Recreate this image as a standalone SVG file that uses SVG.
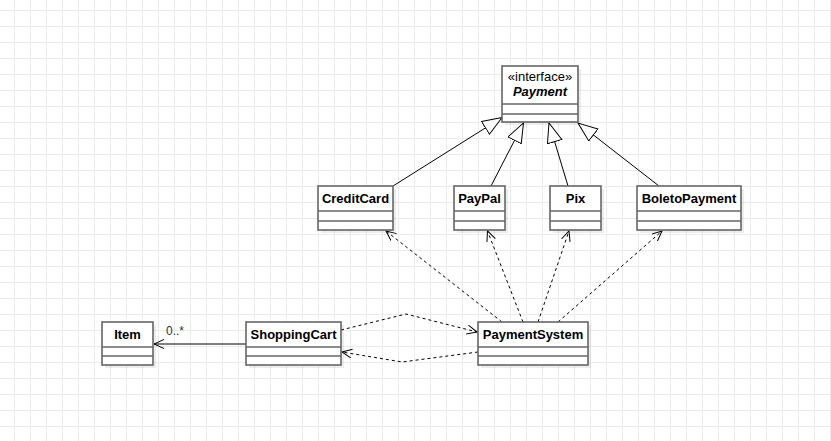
<svg xmlns="http://www.w3.org/2000/svg" width="831" height="441" viewBox="0 0 831 441">
<style>
  .box{fill:#fff;stroke:#666;stroke-width:1.6}
  .shadow{fill:#000;fill-opacity:0.07}
  .div{stroke:#666;stroke-width:1.6}
  .name{font-family:"Liberation Sans",Arial,sans-serif;font-size:13px;font-weight:bold;text-anchor:middle;fill:#000}
  .stereo{font-family:"Liberation Sans",Arial,sans-serif;font-size:13px;text-anchor:middle;fill:#000}
  .lbl{font-family:"Liberation Sans",Arial,sans-serif;font-size:12px;fill:#333}
  .solid{fill:none;stroke:#000;stroke-width:1}
  .dash{fill:none;stroke:#000;stroke-width:1;stroke-dasharray:3 3}
</style>
<defs>
  <pattern id="grid" width="16" height="16" patternUnits="userSpaceOnUse" x="14" y="10">
    <path d="M0.5,0 V16 M0,0.5 H16" fill="none" stroke="#ebebeb" stroke-width="1"/>
  </pattern>
  <marker id="open" markerUnits="userSpaceOnUse" markerWidth="14" markerHeight="12" refX="10" refY="5" orient="auto">
    <path d="M0,0.5 L10,5 L0,9.5" fill="none" stroke="#000" stroke-width="1" stroke-dasharray="none"/>
  </marker>
  <marker id="tri" markerUnits="userSpaceOnUse" markerWidth="24" markerHeight="20" refX="20" refY="8" orient="auto">
    <path d="M0.5,0.5 L20,8 L0.5,15.5 Z" fill="#fff" stroke="#000" stroke-width="1"/>
  </marker>
</defs>
<rect width="831" height="441" fill="#fff"/>
<rect width="831" height="441" fill="url(#grid)"/>

<g id="connectors">
  <path class="solid" d="M246,344 L154,344" marker-end="url(#open)"/>
  <path class="dash" d="M341,330 L406,314 L477,332" marker-end="url(#open)"/>
  <path class="dash" d="M478,352 L402,362 L342,352" marker-end="url(#open)"/>
  <path class="dash" d="M502,322 L386,231" marker-end="url(#open)"/>
  <path class="dash" d="M523,322 L487.5,231" marker-end="url(#open)"/>
  <path class="dash" d="M538,322 L569,231" marker-end="url(#open)"/>
  <path class="dash" d="M558,322 L662,231" marker-end="url(#open)"/>
  <path class="solid" d="M393,186 L502,117.5" marker-end="url(#tri)"/>
  <path class="solid" d="M491,186 L523.5,123" marker-end="url(#tri)"/>
  <path class="solid" d="M568,186 L549,123" marker-end="url(#tri)"/>
  <path class="solid" d="M659,186 L578,123" marker-end="url(#tri)"/>
  <text class="lbl" x="166" y="335">0..*</text>
</g>

<g id="Payment">
  <rect class="shadow" x="505" y="69" width="76" height="56"/>
  <rect class="box" x="502" y="66" width="76" height="56"/>
  <line class="div" x1="502" y1="104" x2="578" y2="104"/>
  <line class="div" x1="502" y1="114" x2="578" y2="114"/>
  <text class="stereo" x="540" y="81">«interface»</text>
  <text class="name" x="540" y="96" font-style="italic">Payment</text>
</g>

<g id="CreditCard">
  <rect class="shadow" x="321" y="189" width="75" height="44"/>
  <rect class="box" x="318" y="186" width="75" height="44"/>
  <line class="div" x1="318" y1="211" x2="393" y2="211"/>
  <line class="div" x1="318" y1="221" x2="393" y2="221"/>
  <text class="name" x="355.5" y="203">CreditCard</text>
</g>

<g id="PayPal">
  <rect class="shadow" x="457" y="189" width="51" height="44"/>
  <rect class="box" x="454" y="186" width="51" height="44"/>
  <line class="div" x1="454" y1="211" x2="505" y2="211"/>
  <line class="div" x1="454" y1="221" x2="505" y2="221"/>
  <text class="name" x="479.5" y="203">PayPal</text>
</g>

<g id="Pix">
  <rect class="shadow" x="553" y="189" width="51" height="44"/>
  <rect class="box" x="550" y="186" width="51" height="44"/>
  <line class="div" x1="550" y1="211" x2="601" y2="211"/>
  <line class="div" x1="550" y1="221" x2="601" y2="221"/>
  <text class="name" x="575.5" y="203">Pix</text>
</g>

<g id="BoletoPayment">
  <rect class="shadow" x="640" y="189" width="104" height="44"/>
  <rect class="box" x="637" y="186" width="104" height="44"/>
  <line class="div" x1="637" y1="211" x2="741" y2="211"/>
  <line class="div" x1="637" y1="221" x2="741" y2="221"/>
  <text class="name" x="689" y="203">BoletoPayment</text>
</g>

<g id="Item">
  <rect class="shadow" x="105" y="325" width="51" height="43"/>
  <rect class="box" x="102" y="322" width="51" height="43"/>
  <line class="div" x1="102" y1="347" x2="153" y2="347"/>
  <line class="div" x1="102" y1="356" x2="153" y2="356"/>
  <text class="name" x="127.5" y="339">Item</text>
</g>

<g id="ShoppingCart">
  <rect class="shadow" x="249" y="325" width="95" height="43"/>
  <rect class="box" x="246" y="322" width="95" height="43"/>
  <line class="div" x1="246" y1="347" x2="341" y2="347"/>
  <line class="div" x1="246" y1="356" x2="341" y2="356"/>
  <text class="name" x="293.5" y="339">ShoppingCart</text>
</g>

<g id="PaymentSystem">
  <rect class="shadow" x="481" y="325" width="110" height="43"/>
  <rect class="box" x="478" y="322" width="110" height="43"/>
  <line class="div" x1="478" y1="347" x2="588" y2="347"/>
  <line class="div" x1="478" y1="356" x2="588" y2="356"/>
  <text class="name" x="533" y="339">PaymentSystem</text>
</g>
</svg>
